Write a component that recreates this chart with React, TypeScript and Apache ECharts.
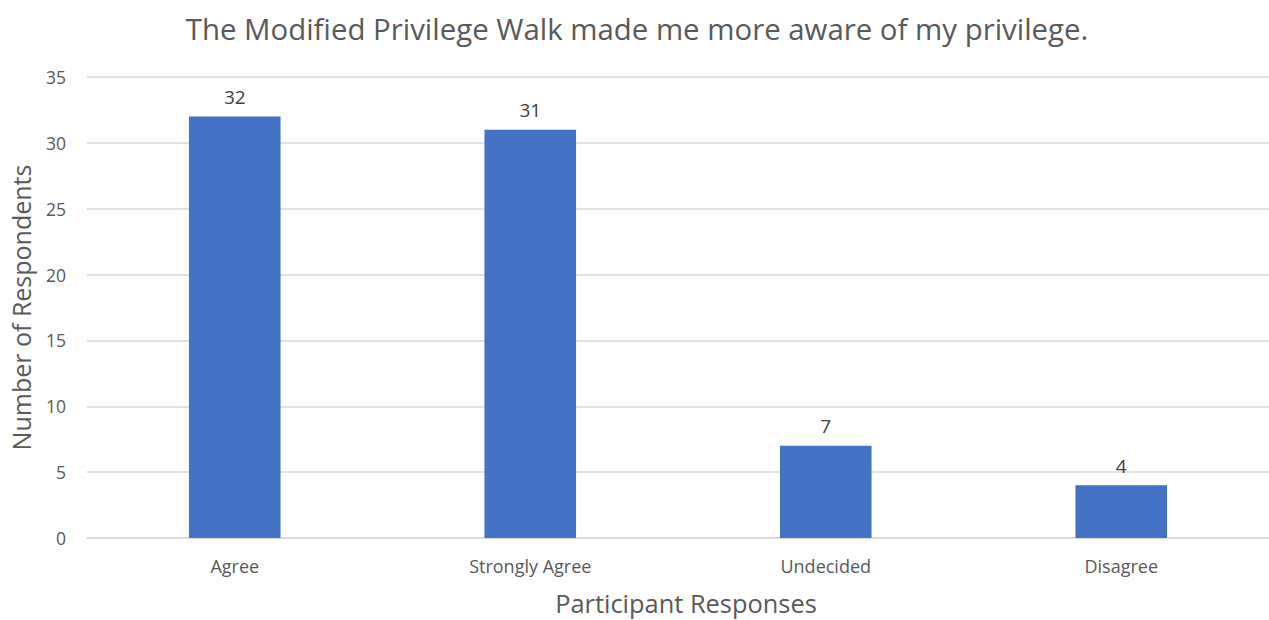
import React, { useEffect, useRef } from "react";
import * as echarts from "echarts";

const titleText = "The Modified Privilege Walk made me more aware of my privilege.";
const categories = ["Agree", "Strongly Agree", "Undecided", "Disagree"];
const respondents = [32, 31, 7, 4];
const yAxisName = "Number of Respondents";
const xAxisName = "Participant Responses";

const FONT = "'Open Sans', sans-serif";

export default function App() {
  const ref = useRef<HTMLDivElement>(null);
  useEffect(() => {
    document.body.style.margin = "0";
    if (!ref.current) return;
    const chart = echarts.init(ref.current, null, { renderer: "svg" });
    chart.setOption({
      animation: false,
      backgroundColor: "#ffffff",
      title: {
        text: titleText,
        left: 632,
        textAlign: "center",
        top: 9,
        textStyle: { fontFamily: FONT, fontSize: 29.4, fontWeight: "normal", color: "#595959" },
      },
      grid: { left: 87, width: 1194, top: 77, bottom: 67, containLabel: false },
      xAxis: {
        type: "category",
        data: categories,
        name: xAxisName,
        nameLocation: "middle",
        nameGap: 52,
        nameTextStyle: { fontFamily: FONT, fontSize: 25.4, color: "#595959", padding: [0, 0, 0, 16] },
        axisLine: { show: true, lineStyle: { color: "#d9d9d9", width: 1.5 } },
        axisTick: { show: false },
        axisLabel: { fontFamily: FONT, fontSize: 18, color: "#595959", margin: 19 },
      },
      yAxis: {
        type: "value",
        min: 0,
        max: 35,
        interval: 5,
        name: yAxisName,
        nameLocation: "middle",
        nameGap: 54,
        nameTextStyle: { fontFamily: FONT, fontSize: 25, color: "#595959" },
        axisLine: { show: false },
        axisTick: { show: false },
        axisLabel: { fontFamily: FONT, fontSize: 17.5, color: "#595959", margin: 21 },
        splitLine: { lineStyle: { color: "#d9d9d9", width: 1.5 } },
      },
      series: [
        {
          type: "bar",
          data: respondents,
          barWidth: "31%",
          itemStyle: { color: "#4472C4" },
          label: {
            show: true,
            position: "top",
            distance: 10,
            fontFamily: FONT,
            fontSize: 19,
            color: "#404040",
          },
        },
      ],
    });
    return () => chart.dispose();
  }, []);
  return <div ref={ref} style={{ width: 1269, height: 620, background: "#fff" }} />;
}
